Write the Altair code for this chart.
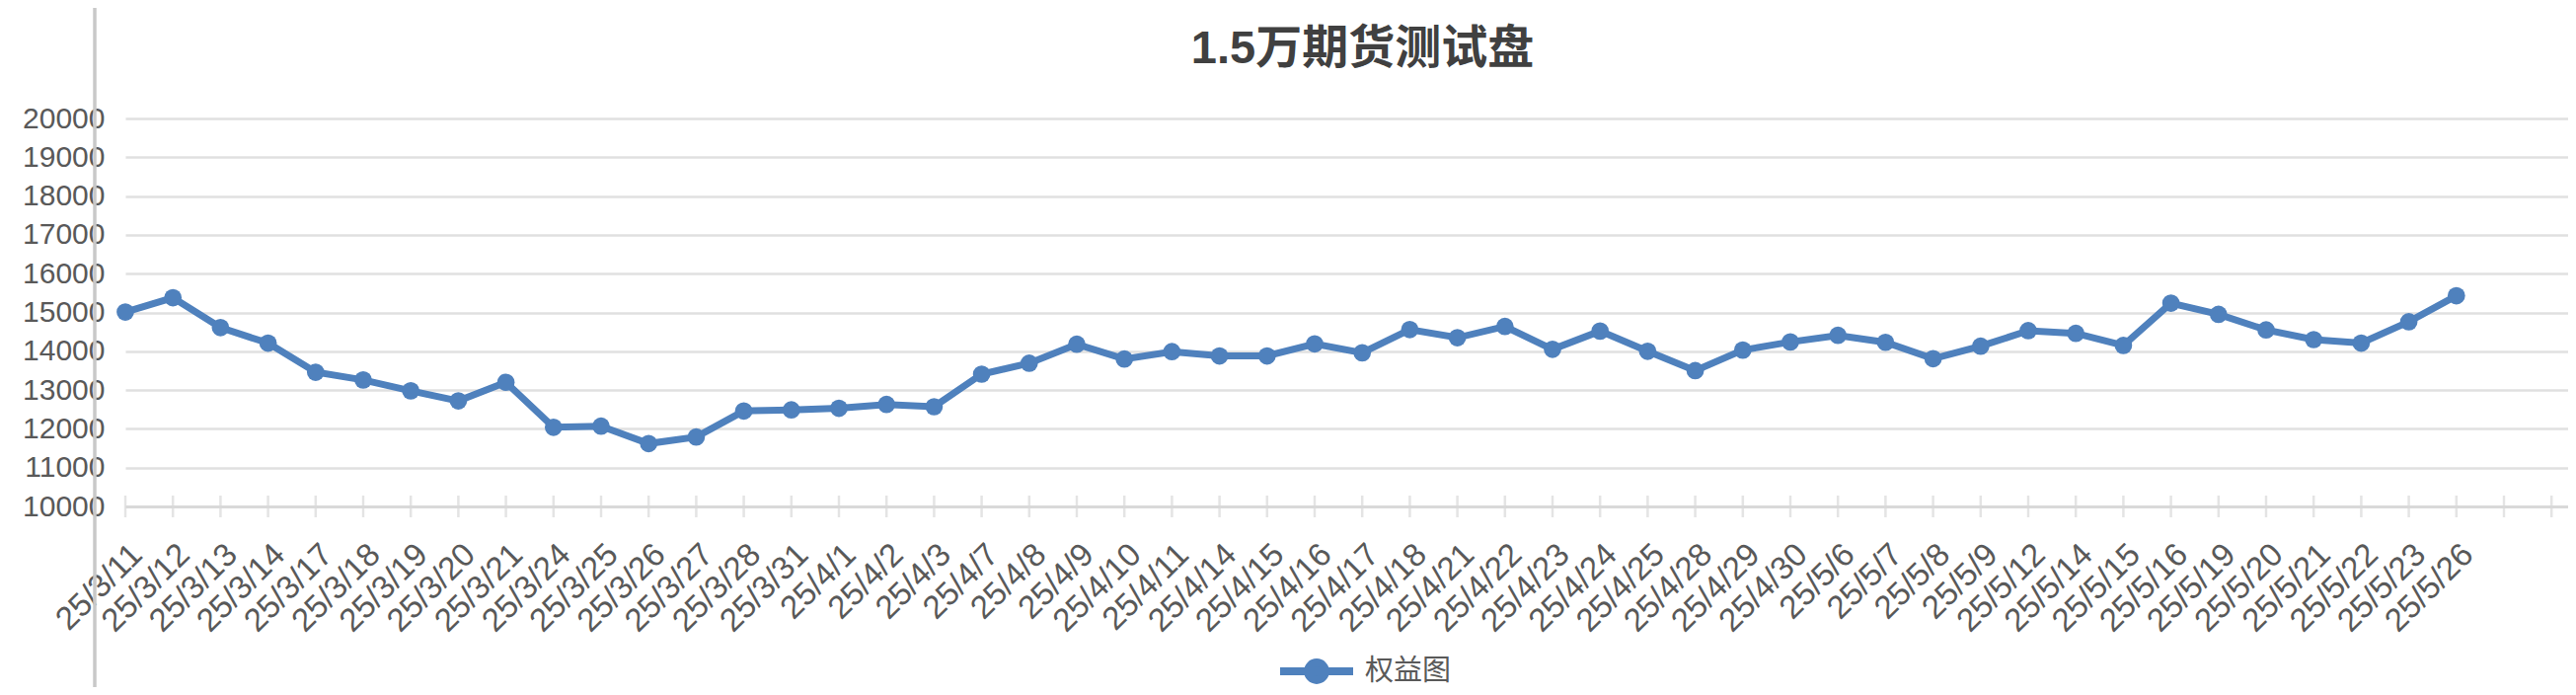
import json
import altair as alt
import pandas as pd

# ---------------- data ----------------
dates = [
    "25/3/11", "25/3/12", "25/3/13", "25/3/14", "25/3/17", "25/3/18", "25/3/19",
    "25/3/20", "25/3/21", "25/3/24", "25/3/25", "25/3/26", "25/3/27", "25/3/28",
    "25/3/31", "25/4/1", "25/4/2", "25/4/3", "25/4/7", "25/4/8", "25/4/9",
    "25/4/10", "25/4/11", "25/4/14", "25/4/15", "25/4/16", "25/4/17", "25/4/18",
    "25/4/21", "25/4/22", "25/4/23", "25/4/24", "25/4/25", "25/4/28", "25/4/29",
    "25/4/30", "25/5/6", "25/5/7", "25/5/8", "25/5/9", "25/5/12", "25/5/14",
    "25/5/15", "25/5/16", "25/5/19", "25/5/20", "25/5/21", "25/5/22", "25/5/23",
    "25/5/26",
]
equity = [
    15010, 15380, 14610, 14210, 13460, 13260, 12980, 12720, 13200, 12040,
    12070, 11620, 11790, 12460, 12490, 12530, 12630, 12570, 13410, 13690,
    14180, 13800, 13990, 13880, 13880, 14190, 13960, 14560, 14350, 14640,
    14050, 14520, 14000, 13500, 14030, 14240, 14410, 14230, 13810, 14130,
    14530, 14460, 14150, 15240, 14950, 14550, 14300, 14210, 14760, 15430,
]
title_text = "1.5万期货测试盘"
series_name = "权益图"
y_ticks = list(range(10000, 20001, 1000))
n_slots = 52  # category slots on the axis (two empty at the end)

df = pd.DataFrame({"i": list(range(len(dates))), "date": dates,
                   "value": equity, "series": series_name})
ticks_df = pd.DataFrame({"i": list(range(n_slots))})

# ---------------- layout ----------------
W, H = 2475, 393
STEP = 48.2
BLUE = "#4f81bd"
GRAY_TXT = "#595959"
FONT = "Liberation Sans, Noto Sans CJK SC"

x_scale = alt.Scale(domain=[0, W / STEP], nice=False, zero=False)
y_scale = alt.Scale(domain=[10000, 20000], nice=False, zero=False)

label_expr = "datum.value < %d ? %s[datum.value] : ''" % (len(dates), json.dumps(dates))

x_axis = alt.Axis(values=list(range(n_slots)), labelExpr=label_expr, labelAngle=-45,
                  labelAlign="right", labelBaseline="top", labelFontSize=33,
                  labelFont=FONT, labelColor=GRAY_TXT, labelPadding=32, ticks=False,
                  grid=False, domainColor="#d9d9d9", domainWidth=3, title=None,
                  labelOverlap=False, labelFlush=False, labelBound=False)
y_axis = alt.Axis(values=y_ticks, format="d", labelFontSize=30, labelFont=FONT,
                  labelColor=GRAY_TXT, labelPadding=21, ticks=False, domain=False,
                  grid=True, gridColor="#e0e0e0", gridWidth=2.5, title=None)

X = alt.X("i:Q", scale=x_scale, axis=x_axis)

legend = alt.Legend(orient="none", legendX=1166, legendY=519, title=None,
                    symbolType="M-1,0L1,0M0.24,0A0.24,0.24,0,1,1,-0.24,0A0.24,0.24,0,1,1,0.24,0Z",
                    symbolSize=5476, symbolStrokeWidth=8, symbolFillColor=BLUE,
                    symbolStrokeColor=BLUE, labelFontSize=29, labelFont="Noto Sans CJK SC",
                    labelColor=GRAY_TXT, labelOffset=8, padding=0)

color = alt.Color("series:N", scale=alt.Scale(range=[BLUE]), legend=legend)

ticks = alt.Chart(ticks_df).mark_tick(orient="vertical", size=22, thickness=2.5,
                                      color="#d9d9d9").encode(
    x=X, y=alt.datum(10000, scale=y_scale, axis=y_axis))

line = alt.Chart(df).mark_line(strokeWidth=7).encode(
    x=X, y=alt.Y("value:Q", scale=y_scale, axis=y_axis), color=color)

points = alt.Chart(df).mark_point(filled=True, size=314, opacity=1).encode(
    x=X, y=alt.Y("value:Q", scale=y_scale, axis=y_axis), color=color)

divider = alt.Chart(pd.DataFrame({"k": [0]})).mark_rule(
    color="#c8c8c8", strokeWidth=3.5).encode(
    x=alt.value(-31), y=alt.value(-112), y2=alt.value(576))

chart = alt.layer(ticks, line, points, divider).properties(
    width=W, height=H,
    padding={"left": 119, "top": 112, "right": 0, "bottom": 183},
    autosize=alt.AutoSizeParams(type="none"),
    title=alt.TitleParams(title_text, fontSize=47, font=FONT, fontWeight="bold",
                          color="#404040", anchor="middle", frame="group",
                          baseline="alphabetic", offset=0, dy=105, dx=16),
).configure_view(stroke=None)

chart.save("out.html", embed_options={"renderer": "svg", "actions": False})
